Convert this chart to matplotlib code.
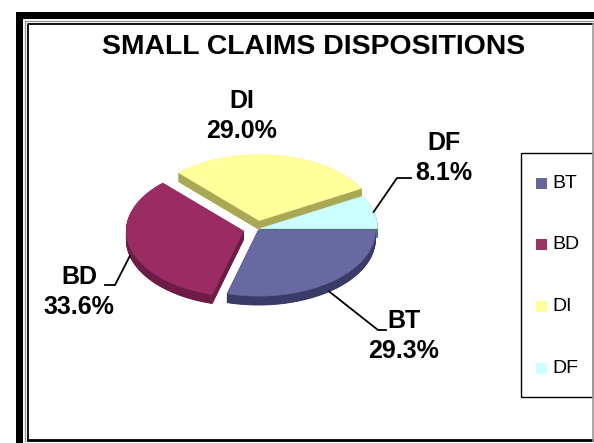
import numpy as np
import matplotlib
matplotlib.use('Agg')
import matplotlib.pyplot as plt
from matplotlib.patches import Polygon, Rectangle

plt.rcParams['font.family'] = ['Liberation Sans', 'DejaVu Sans']

# slice data, in legend order
labels = ['BT', 'BD', 'DI', 'DF']
shares = [29.3, 33.6, 29.0, 8.1]
explode = [0.02, 0.12, 0.13, 0.03]
top_colors = ['#6868a2', '#9b2c63', '#ffff9c', '#ccffff']
side_colors = ['#3b3b68', '#6c1c45', '#a9a955', '#4d7676']
legend_colors = ['#666699', '#993366', '#ffff99', '#ccffff']

# layout, in pixels (y grows downward)
W, H = 594, 443
cx, cy = 257, 229
rx, ry = 117, 66
depth = 9

# where each label sits and where its leader line bends
label_pos = {'BT': (404, 321), 'BD': (79, 277), 'DI': (242, 101), 'DF': (444, 143)}
leader_bend = {'BT': [(378, 330), (386, 330)],
               'BD': [(115, 285), (105, 285)],
               'DF': [(397, 178), (411, 178)]}

fig = plt.figure(figsize=(W / 100, H / 100), dpi=100)
ax = fig.add_axes([0, 0, 1, 1])
ax.set_xlim(0, W)
ax.set_ylim(H, 0)
ax.axis('off')

# frame: thick outer border plus a thin inner one
ax.add_patch(Rectangle((16, 12), 7, H, color='black', lw=0))
ax.add_patch(Rectangle((16, 12), W, 7, color='black', lw=0))
ax.plot([25, 25], [21, 441], color='#999999', lw=1)
ax.plot([25, W], [21, 21], color='#999999', lw=1)
ax.plot([27.5, 27.5, W], [440, 24, 24], color='black', lw=1.3)
ax.plot([27.5, W], [440, 440], color='black', lw=2)
ax.plot([593, 593], [24, 441], color='#999999', lw=1.2)

ax.text(314, 47, 'SMALL CLAIMS DISPOSITIONS', ha='center', va='center',
        fontsize=20.4, fontweight='bold')

# slice angles: start at 3 o'clock, go clockwise
fracs = np.array(shares) / sum(shares)
ends = -360 * np.cumsum(fracs)
starts = np.concatenate([[0], ends[:-1]])
mids = (starts + ends) / 2


def slice_outline(a0, a1, ox, oy):
    th = np.radians(np.linspace(a0, a1, 80))
    xs = np.concatenate([[cx + ox], cx + ox + rx * np.cos(th)])
    ys = np.concatenate([[cy + oy], cy + oy - ry * np.sin(th)])
    return np.column_stack([xs, ys])


offsets = []
for m, e in zip(mids, explode):
    t = np.radians(m)
    offsets.append((e * rx * np.cos(t), -e * ry * np.sin(t)))

# paint from the back of the pie to the front
order = sorted(range(len(labels)), key=lambda i: -np.sin(np.radians(mids[i])))
for i in order:
    ox, oy = offsets[i]
    pts = slice_outline(starts[i], ends[i], ox, oy)
    for d in np.linspace(depth, 0.5, 18):
        ax.add_patch(Polygon(pts + [0, d], closed=True, color=side_colors[i], lw=0.6))
    ax.add_patch(Polygon(pts, closed=True, facecolor=top_colors[i],
                         edgecolor=top_colors[i], lw=0.5))

# data labels with leader lines
for i, name in enumerate(labels):
    lx, ly = label_pos[name]
    ax.text(lx, ly, name, ha='center', va='center', fontsize=18, fontweight='bold')
    ax.text(lx, ly + 30, f'{shares[i]:.1f}%', ha='center', va='center',
            fontsize=18, fontweight='bold')
    if name in leader_bend:
        t = np.radians(mids[i])
        ox, oy = offsets[i]
        sx = cx + ox + rx * np.cos(t)
        sy = cy + oy - ry * np.sin(t)
        if np.sin(t) < 0:
            sy += depth
        pts = [(sx, sy)] + leader_bend[name]
        ax.plot([p[0] for p in pts], [p[1] for p in pts], color='black', lw=1.3)

# legend box, running off the right edge
ax.add_patch(Rectangle((521, 153), 120, 244, facecolor='white',
                       edgecolor='black', lw=1, clip_on=False))
for k, (name, col) in enumerate(zip(labels, legend_colors)):
    yk = 183 + k * 61.7
    ax.add_patch(Rectangle((536, yk - 5.5), 11, 11, color=col, lw=0))
    ax.text(552, yk, name, ha='left', va='center', fontsize=14)
ax.plot([593, 593], [153, 397], color='#999999', lw=1.2)

fig.savefig('out.png', dpi=100)
